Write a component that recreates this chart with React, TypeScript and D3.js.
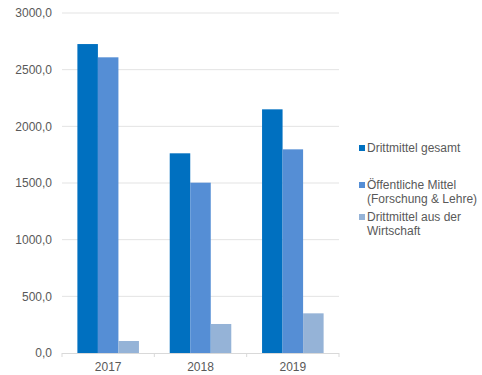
import React from "react";
import * as d3 from "d3";

const categories = ["2017", "2018", "2019"];
const seriesNames = ["Drittmittel gesamt", "Öffentliche Mittel\n(Forschung & Lehre)", "Drittmittel aus der\nWirtschaft"];
const gesamt = [2726, 1762, 2150];
const oeffentlich = [2609, 1503, 1797];
const wirtschaft = [106, 256, 350];
const yTicks = [0, 500, 1000, 1500, 2000, 2500, 3000];
const colors = ["#0070C0", "#558ED5", "#95B3D7"];

export default function App() {
  const W = 482, H = 375;
  const left = 62, right = 339, top = 13, bottom = 353;
  const series = [gesamt, oeffentlich, wirtschaft];
  const x = d3.scaleBand<string>().domain(categories).range([left, right]).paddingInner(0).paddingOuter(0);
  const inner = d3.scaleBand<number>().domain([0, 1, 2]).range([0, x.bandwidth()]).paddingOuter(0.75).paddingInner(0);
  const y = d3.scaleLinear().domain([0, 3000]).range([bottom, top]);
  const fmt = (v: number) => v.toFixed(1).replace(".", ",");
  const font = "Liberation Sans, Arial, sans-serif";
  const legendY = [148, 185, 217];
  return (
    <svg width={W} height={H} style={{ position: "absolute", left: 0, top: 0, background: "#fff" }}>
      {yTicks.map((t) => (
        <g key={t}>
          {t > 0 && <line x1={left} x2={right} y1={y(t)} y2={y(t)} stroke="#e3e3e3" strokeWidth={1} />}
          <text x={52} y={y(t)} dy="0.35em" textAnchor="end" fontFamily={font} fontSize={12} fill="#595959">{fmt(t)}</text>
        </g>
      ))}
      {series.map((vals, si) =>
        vals.map((v, ci) => (
          <rect key={`${si}-${ci}`} x={(x(categories[ci]) as number) + (inner(si) as number)} y={y(v)} width={inner.bandwidth()} height={bottom - y(v)} fill={colors[si]} />
        ))
      )}
      <line x1={left} x2={right} y1={bottom + 0.5} y2={bottom + 0.5} stroke="#d9d9d9" strokeWidth={1} />
      {[...categories.map((c) => x(c) as number), right].map((tx, i) => (
        <line key={i} x1={tx} x2={tx} y1={bottom} y2={bottom + 4} stroke="#d9d9d9" />
      ))}
      {categories.map((c) => (
        <text key={c} x={(x(c) as number) + x.bandwidth() / 2} y={367} dy="0.35em" textAnchor="middle" fontFamily={font} fontSize={12} fill="#595959">{c}</text>
      ))}
      {seriesNames.map((name, i) => (
        <g key={i}>
          <rect x={359} y={legendY[i] - 3} width={6} height={6} fill={colors[i]} />
          {name.split("\n").map((ln, j) => (
            <text key={j} x={367} y={legendY[i] + j * 14} dy="0.35em" fontFamily={font} fontSize={12} fill="#595959">{ln}</text>
          ))}
        </g>
      ))}
    </svg>
  );
}
